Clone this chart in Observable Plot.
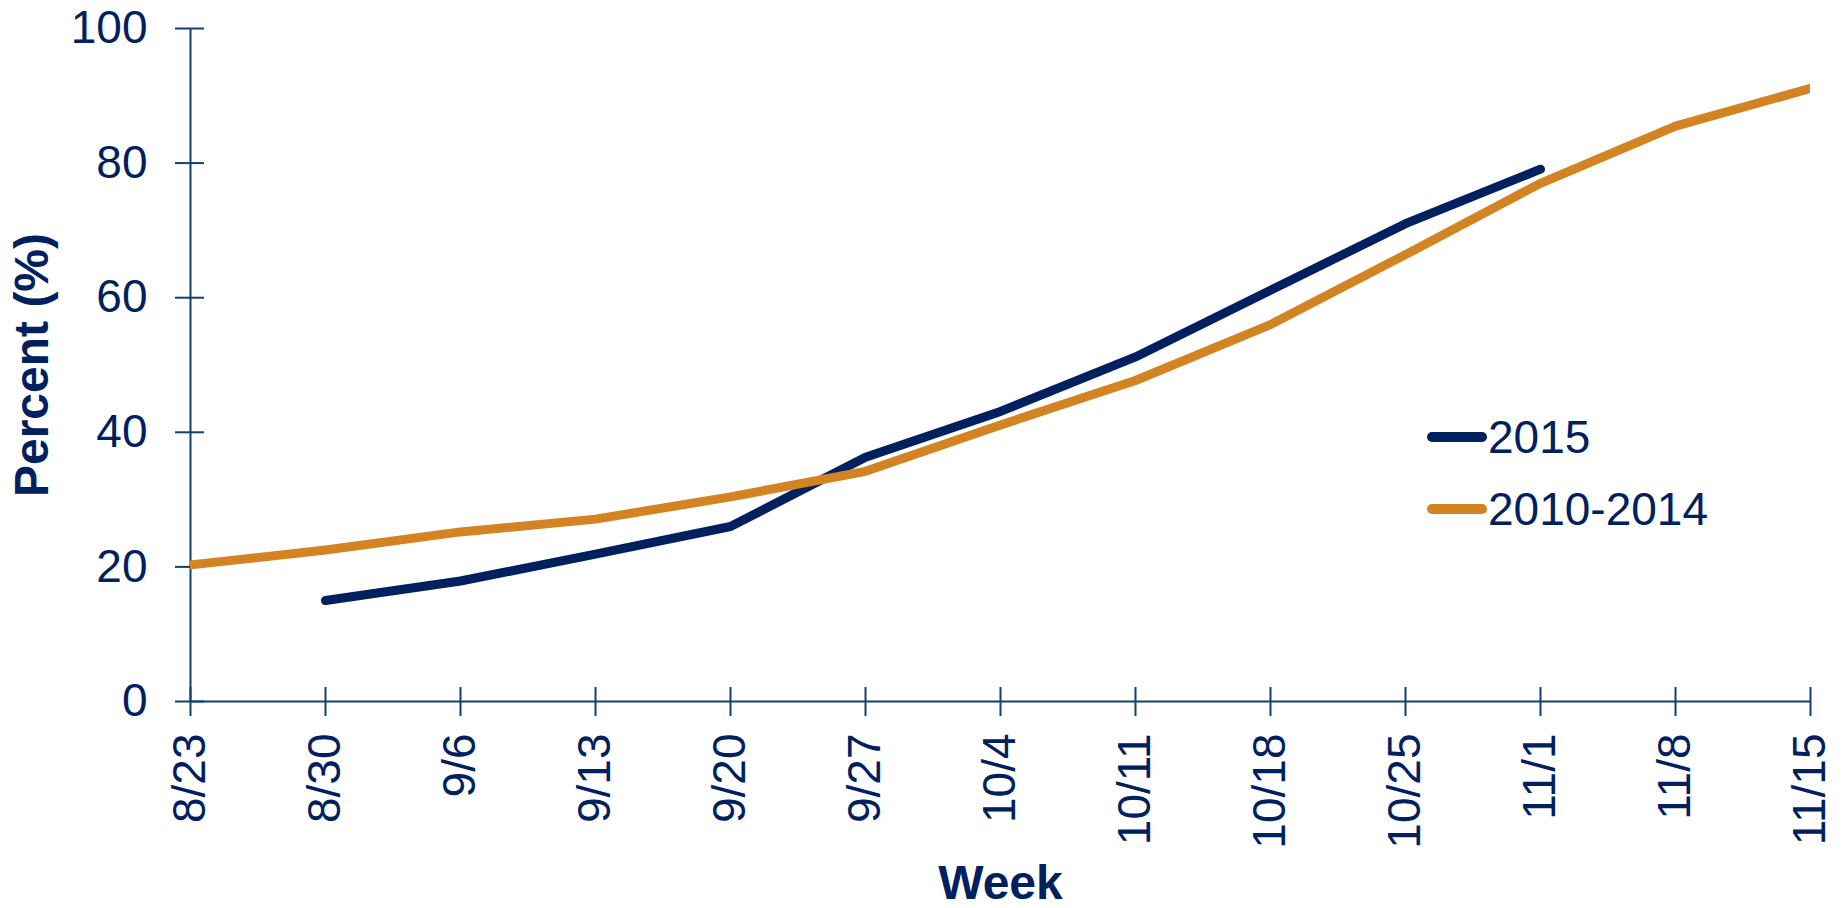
<!DOCTYPE html>
<html>
<head>
<meta charset="utf-8">
<script src="https://cdn.jsdelivr.net/npm/d3@7"></script>
<script src="https://cdn.jsdelivr.net/npm/@observablehq/plot@0.6"></script>
<style>
  html, body { margin: 0; padding: 0; background: #fff; }
  #wrap { position: relative; width: 1845px; height: 908px; font-family: Arial, "Liberation Sans", sans-serif; }
  .item { position: absolute; left: 1427px; height: 60px; display: flex; align-items: center; }
  .swatch { width: 60px; height: 10px; border-radius: 5px; }
  .label { margin-left: 1px; font-size: 46px; color: #002060; white-space: nowrap; line-height: 60px; }
</style>
</head>
<body>
<div id="wrap"></div>
<script>
// ---- data ----
const weeks = ["8/23", "8/30", "9/6", "9/13", "9/20", "9/27", "10/4", "10/11", "10/18", "10/25", "11/1", "11/8", "11/15"];
const series = ["2015", "2010-2014"];
const values2015 = [null, 15.0, 17.9, 21.9, 26.0, 36.3, 43.1, 51.2, 61.1, 71.0, 79.1, null, null];
const values2010to2014 = [20.3, 22.5, 25.2, 27.1, 30.4, 34.2, 41.1, 47.7, 56.0, 66.4, 77.0, 85.5, 91.1];
const seriesColors = ["#002060", "#d38321"];
const yTicks = [0, 20, 40, 60, 80, 100];
const yTitle = "Percent (%)";
const xTitle = "Week";

const textColor = "#002060";
const axisColor = "#123f72";

const rows = [];
[values2015, values2010to2014].forEach((vals, s) => {
  vals.forEach((v, i) => {
    if (v != null) rows.push({ week: weeks[i], series: series[s], value: v });
  });
});

const chart = Plot.plot({
  width: 1845,
  height: 908,
  marginLeft: 190,
  marginRight: 35,
  marginTop: 28,
  marginBottom: 207,
  style: { fontFamily: 'Arial, "Liberation Sans", sans-serif', background: "#fff", overflow: "visible" },
  x: { type: "point", domain: weeks, padding: 0 },
  y: { domain: [0, 100] },
  color: { domain: series, range: seriesColors },
  marks: [
    Plot.ruleY([0], { stroke: axisColor, strokeWidth: 2 }),
    Plot.ruleX([weeks[0]], { y1: 0, y2: 100, stroke: axisColor, strokeWidth: 2 }),
    Plot.axisY(yTicks, { tickSize: 29, dx: 14, tickFormat: () => "", stroke: axisColor, strokeWidth: 2, label: null }),
    Plot.axisY(yTicks, { tickSize: 0, tickPadding: 43, fill: textColor, fontSize: 46, label: null }),
    Plot.axisX({ tickSize: 29, dy: -14, tickFormat: () => "", stroke: axisColor, strokeWidth: 2, label: null }),
    Plot.axisX({ tickSize: 0, tickPadding: 32, tickRotate: -90, fill: textColor, fontSize: 46, label: null }),
    Plot.line(rows, {
      x: "week", y: "value", z: "series", stroke: "series",
      strokeWidth: 9, strokeLinecap: "round", strokeLinejoin: "round", clip: true
    }),
    Plot.text([yTitle], {
      text: d => d, frameAnchor: "left", dx: -158, rotate: -90,
      fontSize: 48, fontWeight: "bold", fill: textColor, textAnchor: "middle", lineAnchor: "middle"
    }),
    Plot.text([xTitle], {
      text: d => d, frameAnchor: "bottom", dy: 197,
      fontSize: 48, fontWeight: "bold", fill: textColor, textAnchor: "middle", lineAnchor: "bottom"
    })
  ]
});

const wrap = document.getElementById("wrap");
wrap.appendChild(chart);

// legend
const legendCenters = [437, 509];
series.forEach((s, i) => {
  const item = document.createElement("div");
  item.className = "item";
  item.style.top = (legendCenters[i] - 30) + "px";
  const sw = document.createElement("div");
  sw.className = "swatch";
  sw.style.background = seriesColors[i];
  const lab = document.createElement("span");
  lab.className = "label";
  lab.textContent = s;
  item.appendChild(sw);
  item.appendChild(lab);
  wrap.appendChild(item);
});
</script>
</body>
</html>
